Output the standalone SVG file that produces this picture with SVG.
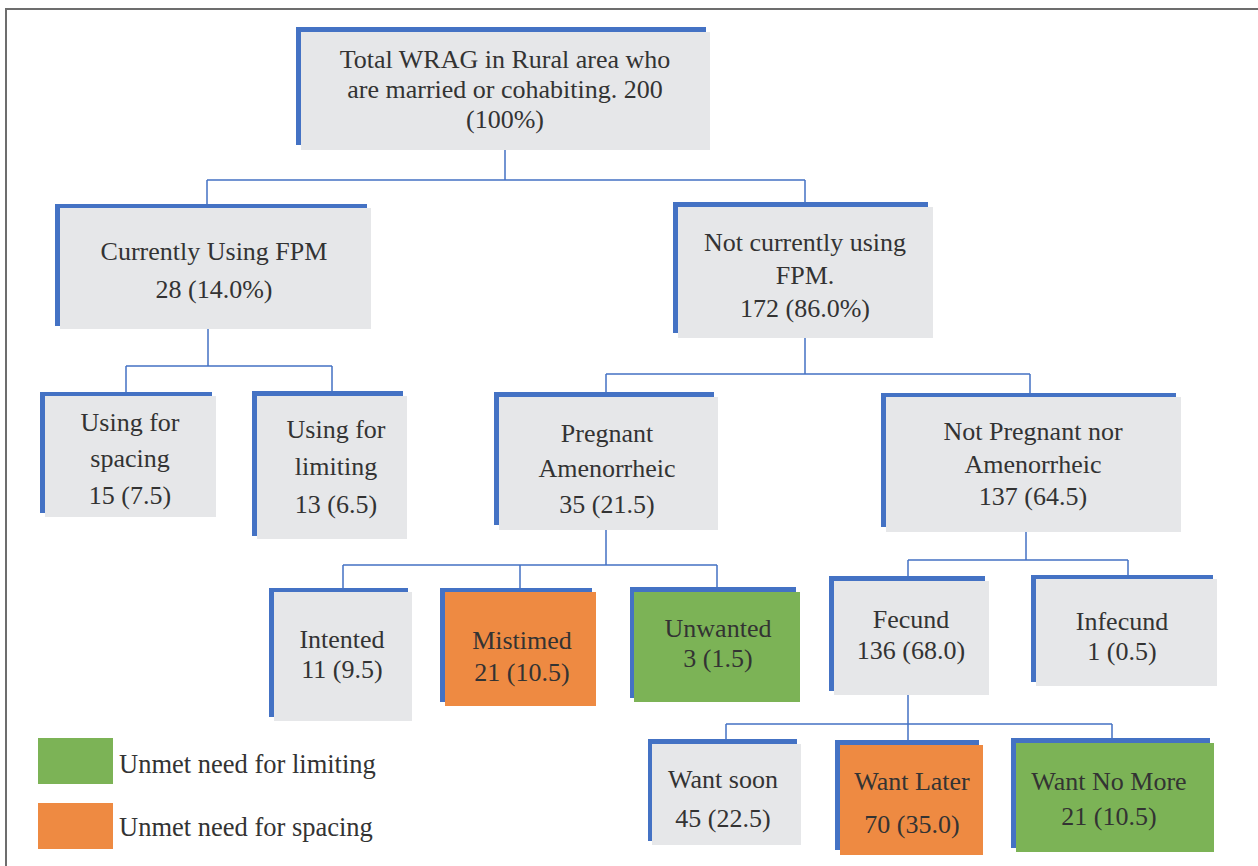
<svg xmlns="http://www.w3.org/2000/svg" width="1258" height="866" viewBox="0 0 1258 866">
<style>
.sh{fill:#4472C4}
.bx{fill:#E6E7E9}
.or{fill:#EE8A42}
.gr{fill:#7CB356}
text{font-family:"Liberation Serif","Times New Roman",serif;font-size:26px;fill:#333333;text-anchor:middle}
.lg{text-anchor:start;font-size:26.5px}
.cn{fill:none;stroke:#4472C4;stroke-width:1.5}
</style>
<rect x="0" y="0" width="1258" height="866" fill="#fff"/>
<path d="M6 866 V9 H1258" fill="none" stroke="#6d6d6d" stroke-width="2"/>
<g id="connectors" class="cn">
<path d="M505 150 V180 M207 180 H805 M207 180 V204 M805 180 V203"/>
<path d="M208 329 V366 M126 366 H332 M126 366 V392 M332 366 V392"/>
<path d="M805 337 V374 M606 374 H1030 M606 374 V393 M1030 374 V393"/>
<path d="M606 530 V565 M343 565 H717 M343 565 V590 M520 565 V588 M717 565 V587"/>
<path d="M1026 532 V560 M908 560 H1128 M908 560 V576 M1128 560 V575"/>
<path d="M908 695 V724 M726 724 H1112 M726 724 V739 M908 724 V740 M1112 724 V738"/>
</g>
<g id="n-total">
<rect class="sh" x="296" y="27" width="410" height="118"/>
<rect class="bx" x="301" y="32" width="409" height="118"/>
<text x="505" y="68">Total WRAG in Rural area who</text>
<text x="505" y="98">are married or cohabiting. 200</text>
<text x="505" y="128">(100%)</text>
</g>
<g id="n-using">
<rect class="sh" x="55" y="204" width="312" height="122"/>
<rect class="bx" x="60" y="208" width="311" height="121"/>
<text x="214" y="260">Currently Using FPM</text>
<text x="214" y="298">28 (14.0%)</text>
</g>
<g id="n-notusing">
<rect class="sh" x="673" y="202" width="255" height="131"/>
<rect class="bx" x="678" y="207" width="255" height="131"/>
<text x="805" y="251">Not currently using</text>
<text x="805" y="284">FPM.</text>
<text x="805" y="317">172 (86.0%)</text>
</g>
<g id="n-spacing">
<rect class="sh" x="40" y="392" width="172" height="121"/>
<rect class="bx" x="45" y="396" width="171" height="121"/>
<text x="130" y="431">Using for</text>
<text x="130" y="467">spacing</text>
<text x="130" y="504">15 (7.5)</text>
</g>
<g id="n-limiting">
<rect class="sh" x="252" y="391" width="151" height="145"/>
<rect class="bx" x="257" y="396" width="150" height="143"/>
<text x="336" y="438">Using for</text>
<text x="336" y="475">limiting</text>
<text x="336" y="513">13 (6.5)</text>
</g>
<g id="n-pregnant">
<rect class="sh" x="494" y="392" width="220" height="133"/>
<rect class="bx" x="499" y="397" width="219" height="133"/>
<text x="607" y="442">Pregnant</text>
<text x="607" y="477">Amenorrheic</text>
<text x="607" y="513">35 (21.5)</text>
</g>
<g id="n-notpregnant">
<rect class="sh" x="881" y="393" width="295" height="134"/>
<rect class="bx" x="886" y="397" width="295" height="135"/>
<text x="1033" y="440">Not Pregnant nor</text>
<text x="1033" y="473">Amenorrheic</text>
<text x="1033" y="505">137 (64.5)</text>
</g>
<g id="n-intented">
<rect class="sh" x="269" y="588" width="139" height="129"/>
<rect class="bx" x="274" y="592" width="138" height="129"/>
<text x="342" y="648">Intented</text>
<text x="342" y="678">11 (9.5)</text>
</g>
<g id="n-mistimed">
<rect class="sh" x="440" y="588" width="152" height="114"/>
<rect class="or" x="445" y="592" width="151" height="114"/>
<text x="522" y="649">Mistimed</text>
<text x="522" y="681">21 (10.5)</text>
</g>
<g id="n-unwanted">
<rect class="sh" x="630" y="587" width="166" height="111"/>
<rect class="gr" x="634" y="592" width="166" height="110"/>
<text x="718" y="637">Unwanted</text>
<text x="718" y="667">3 (1.5)</text>
</g>
<g id="n-fecund">
<rect class="sh" x="829" y="576" width="156" height="115"/>
<rect class="bx" x="834" y="581" width="155" height="114"/>
<text x="911" y="628">Fecund</text>
<text x="911" y="659">136 (68.0)</text>
</g>
<g id="n-infecund">
<rect class="sh" x="1031" y="575" width="182" height="107"/>
<rect class="bx" x="1036" y="579" width="181" height="107"/>
<text x="1122" y="630">Infecund</text>
<text x="1122" y="660">1 (0.5)</text>
</g>
<g id="n-wantsoon">
<rect class="sh" x="648" y="739" width="149" height="102"/>
<rect class="bx" x="652" y="744" width="149" height="101"/>
<text x="723" y="788">Want soon</text>
<text x="723" y="827">45 (22.5)</text>
</g>
<g id="n-wantlater">
<rect class="sh" x="835" y="740" width="144" height="110"/>
<rect class="or" x="840" y="745" width="143" height="110"/>
<text x="912" y="790">Want Later</text>
<text x="912" y="833">70 (35.0)</text>
</g>
<g id="n-wantnomore">
<rect class="sh" x="1011" y="738" width="199" height="110"/>
<rect class="gr" x="1016" y="743" width="198" height="109"/>
<text x="1109" y="790">Want No More</text>
<text x="1109" y="825">21 (10.5)</text>
</g>
<g id="legend">
<rect class="gr" x="38" y="738" width="75" height="46"/>
<text class="lg" x="119" y="773">Unmet need for limiting</text>
<rect class="or" x="38" y="803" width="75" height="46"/>
<text class="lg" x="119" y="836">Unmet need for spacing</text>
</g>
</svg>
